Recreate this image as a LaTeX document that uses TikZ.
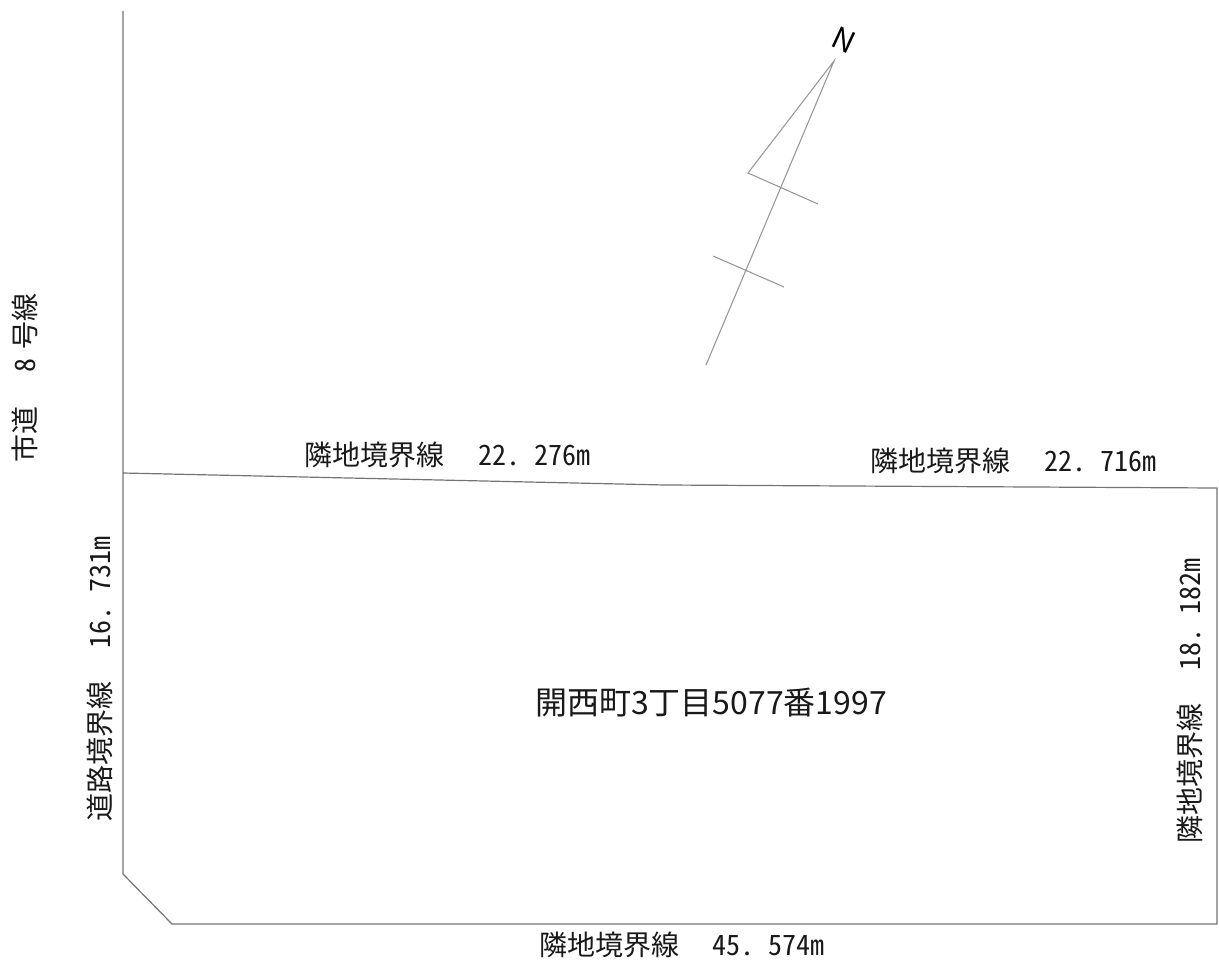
\documentclass[tikz,border=0pt]{standalone}
\usepackage{fontspec}
\newfontfamily\cjk{Noto Sans CJK JP}
\newfontfamily\cjkh[RawFeature=+hwid]{Noto Sans CJK JP}
\tikzset{lbl/.style={inner sep=0pt,font=\cjkh\fontsize{28}{28}\selectfont,text=black!90},
 lblb/.style={inner sep=0pt,font=\cjk\fontsize{32}{32}\selectfont,text=black!90},
 ln/.style={draw=black!55,line width=1.2pt},
 nl/.style={draw=black!40,line width=1.1pt}}
\begin{document}
\begin{tikzpicture}[x=1pt,y=-1pt]
\useasboundingbox (0,0) rectangle (1219,962);
\coordinate (a) at (123,11);
\coordinate (b) at (123,473);
\coordinate (c) at (123,874);
\coordinate (d) at (172,924);
\coordinate (e) at (1217,924);
\coordinate (f) at (1217,488);
\coordinate (g) at (665,485);
\draw[ln] (a)--(b)--(c)--(d)--(e)--(f)--(g)--(b);
\coordinate (t) at (834,61);
\coordinate (u) at (706,365);
\coordinate (v) at (748,173);
\coordinate (w) at (818,204);
\coordinate (x) at (713,256);
\coordinate (y) at (784,287);
\draw[nl] (u)--(t)--(v)--(w) (x)--(y);
\node[lbl,rotate=90] (road) at (25,378) {市道\hspace{1.24em}8\hspace{.32em}号線};
\node[lbl] (top1) at (447.5,455) {隣地境界線\hspace{1.2em}22.\hspace{.5em}276m};
\node[lbl] (top2) at (1013.5,461) {隣地境界線\hspace{1.2em}22.\hspace{.5em}716m};
\node[lbl] (bot) at (682,945) {隣地境界線\hspace{1.2em}45.\hspace{.5em}574m};
\node[lbl,rotate=90] (left) at (100,679) {道路境界線\hspace{1.2em}16.\hspace{.5em}731m};
\node[lbl,rotate=90] (right) at (1190,701) {隣地境界線\hspace{1.2em}18.\hspace{.5em}182m};
\node[lblb] (mid) at (711,703) {開西町3丁目5077番1997};
\node[inner sep=0pt,font=\cjk\fontsize{30}{30}\selectfont,rotate=-25] (n) at (844,40) {N};
\end{tikzpicture}
\end{document}
